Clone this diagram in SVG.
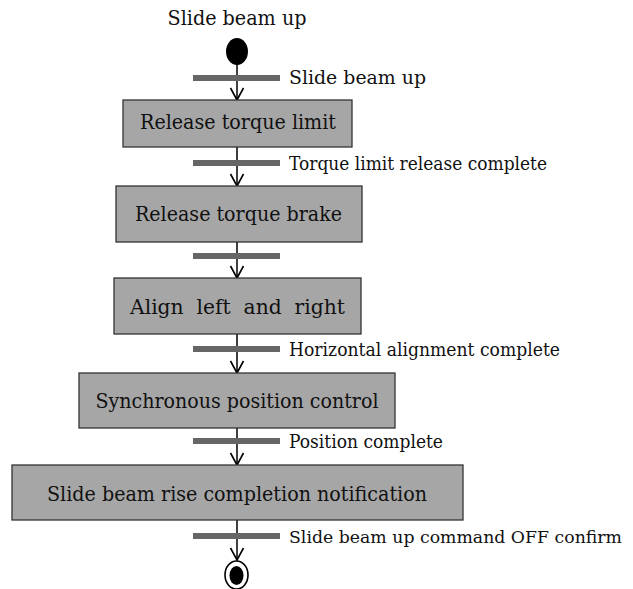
<svg xmlns="http://www.w3.org/2000/svg" width="633" height="589" viewBox="0 0 633 589">
<style>
.lbl{font-size:18px}
.box{fill:#a6a6a6;stroke:#333;stroke-width:1.3}
.bt{font-size:21px;text-anchor:middle}
.bar{fill:#666}
.ln{stroke:#000;stroke-width:1.5;fill:none}
</style>
<defs>
<marker id="arr" markerWidth="16" markerHeight="16" refX="13" refY="7.5" orient="auto" markerUnits="userSpaceOnUse">
<path d="M1,1 L13,7.5 L1,14" fill="none" stroke="#000" stroke-width="1.6"/>
</marker>
</defs>
<rect width="633" height="589" fill="#fff"/>
<g id="connectors">
<line class="ln" x1="237" y1="62" x2="237" y2="100" marker-end="url(#arr)"/>
<line class="ln" x1="237" y1="147" x2="237" y2="186" marker-end="url(#arr)"/>
<line class="ln" x1="237" y1="242" x2="237" y2="278" marker-end="url(#arr)"/>
<line class="ln" x1="237" y1="334" x2="237" y2="373" marker-end="url(#arr)"/>
<line class="ln" x1="237" y1="428" x2="237" y2="465" marker-end="url(#arr)"/>
<line class="ln" x1="237" y1="520" x2="237" y2="560" marker-end="url(#arr)"/>
</g>
<g font-family="'DejaVu Serif', 'Liberation Serif', serif" fill="#111">
<g id="start">
<text x="237" y="25" text-anchor="middle" font-size="20" textLength="139" lengthAdjust="spacingAndGlyphs">Slide beam up</text>
<ellipse cx="237" cy="51.5" rx="11" ry="13.5" fill="#000"/>
</g>
<g id="bar1"><rect class="bar" x="193" y="75" width="87" height="6"/><text class="lbl" x="289" y="84" textLength="137" lengthAdjust="spacingAndGlyphs">Slide beam up</text></g>
<g id="box1"><rect class="box" x="123" y="100" width="229" height="47"/><text class="bt" x="238" y="129" textLength="196" lengthAdjust="spacingAndGlyphs">Release torque limit</text></g>
<g id="bar2"><rect class="bar" x="193" y="160" width="87" height="6"/><text class="lbl" x="289" y="170" textLength="258" lengthAdjust="spacingAndGlyphs">Torque limit release complete</text></g>
<g id="box2"><rect class="box" x="116" y="186" width="246" height="56"/><text class="bt" x="238.5" y="221" textLength="207" lengthAdjust="spacingAndGlyphs">Release torque brake</text></g>
<g id="bar3"><rect class="bar" x="193" y="253" width="87" height="6"/></g>
<g id="box3"><rect class="box" x="114" y="278" width="247" height="56"/><text class="bt" x="237.5" y="314" textLength="215" lengthAdjust="spacingAndGlyphs" xml:space="preserve">Align  left  and  right</text></g>
<g id="bar4"><rect class="bar" x="193" y="346" width="87" height="6"/><text class="lbl" x="289" y="356" textLength="271" lengthAdjust="spacingAndGlyphs">Horizontal alignment complete</text></g>
<g id="box4"><rect class="box" x="79" y="373" width="316" height="55"/><text class="bt" x="237" y="408" textLength="283" lengthAdjust="spacingAndGlyphs">Synchronous position control</text></g>
<g id="bar5"><rect class="bar" x="193" y="438" width="87" height="6"/><text class="lbl" x="289" y="448" textLength="154" lengthAdjust="spacingAndGlyphs">Position complete</text></g>
<g id="box5"><rect class="box" x="12" y="465" width="451" height="55"/><text class="bt" x="237" y="501" textLength="380" lengthAdjust="spacingAndGlyphs">Slide beam rise completion notification</text></g>
<g id="bar6"><rect class="bar" x="193" y="533" width="87" height="6"/><text x="289" y="543" font-size="16.5" textLength="333" lengthAdjust="spacingAndGlyphs">Slide beam up command OFF confirm</text></g>
</g>
<g id="end">
<ellipse cx="236.5" cy="575" rx="11.5" ry="14" fill="#fff" stroke="#000" stroke-width="1.6"/>
<ellipse cx="236.5" cy="575.5" rx="7" ry="9.5" fill="#000"/>
</g>
</svg>
